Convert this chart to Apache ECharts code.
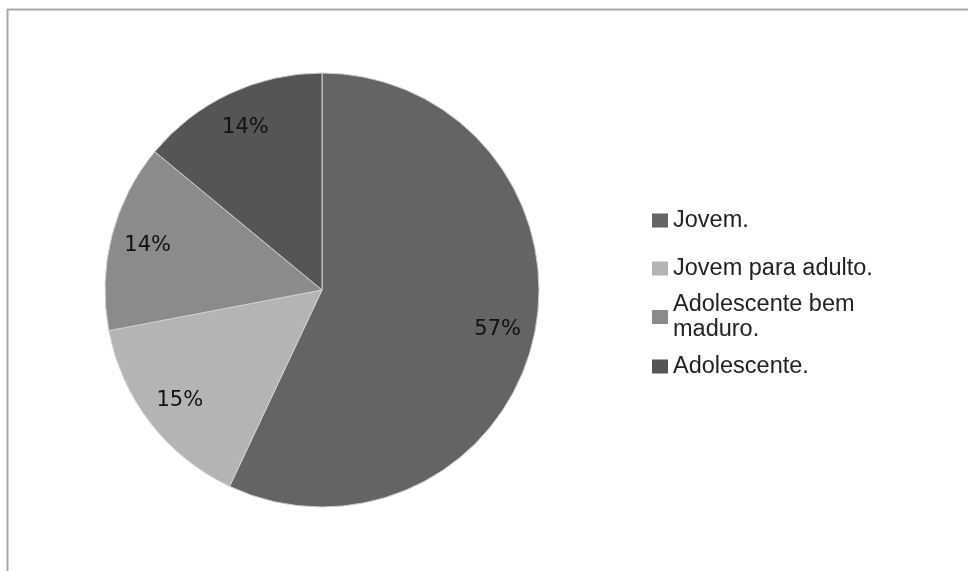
<!DOCTYPE html>
<html>
<head>
<meta charset="utf-8">
<style>html,body{margin:0;padding:0;background:#fff;}#c{width:968px;height:571px;}</style>
<script src="https://cdn.jsdelivr.net/npm/echarts@6/dist/echarts.min.js"></script>
</head>
<body>
<div id="c"></div>
<script>
var categories = ['Jovem.', 'Jovem para adulto.', 'Adolescente bem maduro.', 'Adolescente.'];
var values = [57, 15, 14, 14];
var colors = ['#646464', '#b4b4b4', '#8b8b8b', '#555555'];

var chart = echarts.init(document.getElementById('c'), null, {renderer: 'canvas'});
var data = categories.map(function (n, i) {
  return {name: n, value: values[i], itemStyle: {color: colors[i]}};
});
var labelData = categories.map(function (n, i) {
  return {name: n, value: values[i]};
});
var legendTops = [208, 256, 292, 354];
var legends = categories.map(function (n, i) {
  return {
    data: [n],
    left: 652,
    top: legendTops[i],
    orient: 'vertical',
    padding: 0,
    itemWidth: 16,
    itemHeight: 14,
    itemGap: 0,
    icon: 'rect',
    selectedMode: false,
    textStyle: {
      fontFamily: 'Liberation Sans, Arial, sans-serif',
      fontSize: 23.5,
      color: '#222',
      width: 215,
      overflow: 'break',
      lineHeight: 25,
      padding: [0, 0, 0, 0]
    },
    itemStyle: {borderWidth: 0}
  };
});
chart.setOption({
  animation: false,
  backgroundColor: '#ffffff',
  graphic: [
    {type: 'line', shape: {x1: 7, y1: 9.5, x2: 968, y2: 9.5}, style: {stroke: '#a8a8a8', lineWidth: 2}},
    {type: 'line', shape: {x1: 7.5, y1: 9, x2: 7.5, y2: 571}, style: {stroke: '#a8a8a8', lineWidth: 2}}
  ],
  legend: legends,
  series: [
    {
      type: 'pie',
      center: [322, 290],
      radius: [0, 217],
      startAngle: 90,
      clockwise: true,
      label: {show: false},
      labelLine: {show: false},
      itemStyle: {borderColor: '#d0d0d0', borderWidth: 1},
      emphasis: {disabled: true},
      data: data
    },
    {
      type: 'pie',
      center: [322, 290],
      radius: [138, 216],
      startAngle: 90,
      clockwise: true,
      silent: true,
      legendHoverLink: false,
      itemStyle: {color: 'rgba(0,0,0,0)', borderWidth: 0},
      label: {
        show: true,
        position: 'inside',
        formatter: '{c}%',
        fontFamily: 'DejaVu Sans, Verdana, sans-serif',
        fontSize: 21,
        color: '#111'
      },
      labelLine: {show: false},
      emphasis: {disabled: true},
      data: labelData
    }
  ]
});
</script>
</body>
</html>
